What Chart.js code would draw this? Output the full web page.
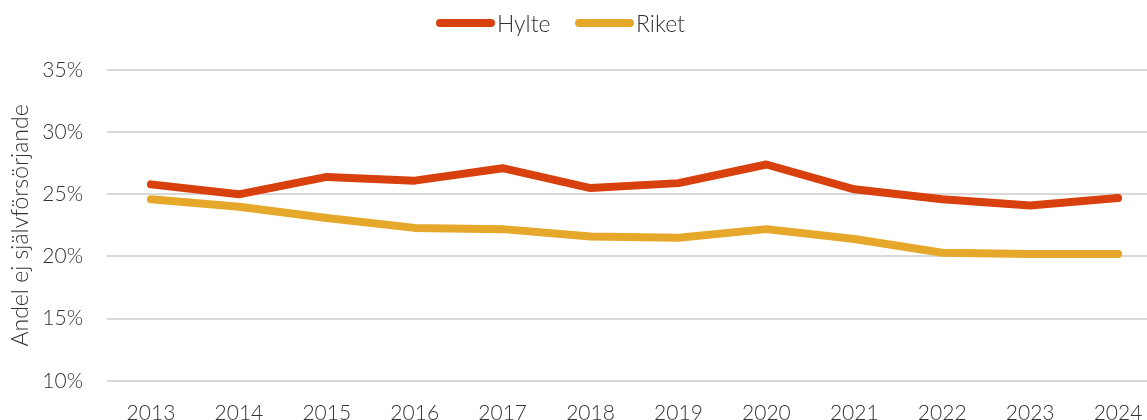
<!DOCTYPE html>
<html lang="sv">
<head>
<meta charset="utf-8">
<title>Andel ej självförsörjande</title>
<script src="https://cdn.jsdelivr.net/npm/chart.js@4/dist/chart.umd.min.js"></script>
<style>
  html, body { margin: 0; padding: 0; background: #fff; overflow: hidden; }
  #wrap { position: relative; width: 1162px; height: 438px; }
  .legend { position: absolute; top: 9px; left: 0; height: 28px; font: 300 23px Lato, "Open Sans", sans-serif; color: #333; }
  .legend .item { position: absolute; top: 0; white-space: nowrap; line-height: 28px; }
  .legend .swatch { position: absolute; top: 10px; width: 59px; height: 8px; border-radius: 4px; }
  .legend .name { position: absolute; left: 61px; top: 0; }
</style>
</head>
<body>
<div id="wrap">
  <div class="legend" id="legend"></div>
  <canvas id="selfSupportChart"></canvas>
</div>
<script>
// Share of population not self-supporting, Hylte vs. whole country
const years = ['2013', '2014', '2015', '2016', '2017', '2018', '2019', '2020', '2021', '2022', '2023', '2024'];
const hylte = [25.8, 25.0, 26.4, 26.1, 27.1, 25.5, 25.9, 27.4, 25.4, 24.6, 24.1, 24.7];
const riket = [24.6, 24.0, 23.1, 22.3, 22.2, 21.6, 21.5, 22.2, 21.4, 20.3, 20.2, 20.2];
const yTicks = [10, 15, 20, 25, 30, 35];

const seriesNames = ['Hylte', 'Riket'];
const seriesColors = ['#d8400e', '#e6a82a'];

const FONT = 'Lato, "Open Sans", sans-serif';
const textColor = '#333333';

// Legend row above the plot
const legendEl = document.getElementById('legend');
const legendLeft = [436, 575];
seriesNames.forEach((name, i) => {
  const item = document.createElement('div');
  item.className = 'item';
  item.style.left = legendLeft[i] + 'px';
  item.innerHTML = `<span class="swatch" style="background:${seriesColors[i]}"></span><span class="name">${name}</span>`;
  legendEl.appendChild(item);
});

function lineSet(label, data, color) {
  return {
    label: label,
    data: data,
    borderColor: color,
    backgroundColor: color,
    borderWidth: 8,
    borderCapStyle: 'round',
    borderJoinStyle: 'round',
    pointRadius: 0,
    tension: 0
  };
}

const ctx = document.getElementById('selfSupportChart').getContext('2d');
new Chart(ctx, {
  type: 'line',
  data: {
    labels: years,
    datasets: [
      lineSet(seriesNames[0], hylte, seriesColors[0]),
      lineSet(seriesNames[1], riket, seriesColors[1])
    ]
  },
  options: {
    responsive: true,
    maintainAspectRatio: false,
    animation: false,
    layout: { padding: { top: 70, right: 0, bottom: 0, left: 0 } },
    plugins: {
      tooltip: { enabled: false },
      legend: { display: false }
    },
    scales: {
      x: {
        offset: true,
        grid: { display: false },
        border: { display: false },
        ticks: {
          color: textColor,
          padding: 12,
          maxRotation: 0,
          autoSkip: false,
          font: { family: FONT, size: 21, weight: 300 }
        }
      },
      y: {
        min: 10,
        max: 35,
        afterBuildTicks: axis => { axis.ticks = yTicks.map(v => ({ value: v })); },
        afterFit: axis => { axis.width = 107; },
        grid: { color: '#d9d9d9', lineWidth: 2, drawTicks: false },
        border: { display: false },
        ticks: {
          color: textColor,
          padding: 24,
          font: { family: FONT, size: 21, weight: 300 },
          callback: v => v + '%'
        },
        title: {
          display: true,
          text: 'Andel ej självförsörjande',
          color: textColor,
          padding: { top: 7, bottom: 0 },
          font: { family: FONT, size: 23, weight: 300 }
        }
      }
    }
  }
});
</script>
</body>
</html>
